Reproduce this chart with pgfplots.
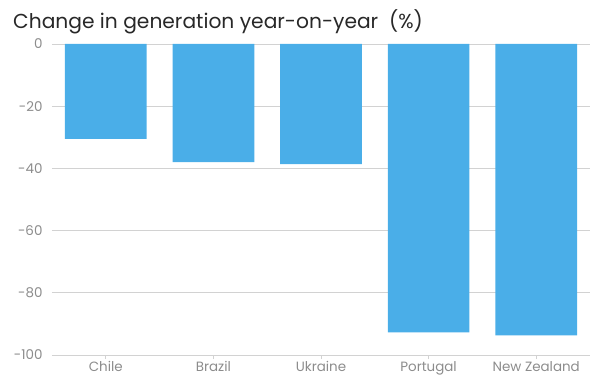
\documentclass[border=0pt]{standalone}
\usepackage{pgfplots}
\pgfplotsset{compat=1.18}
\usepackage{fontspec}
\setmainfont{Poppins}
\definecolor{barblue}{RGB}{74,174,232}
\definecolor{ticklab}{RGB}{140,140,140}
\definecolor{gridc}{RGB}{210,210,210}
\definecolor{titlec}{RGB}{40,40,40}
\begin{document}
\begin{tikzpicture}
\path[use as bounding box] (-52bp,-23bp) rectangle (538bp,355bp);
\begin{axis}[
  anchor=south west, at={(0,0)},
  scale only axis, width=538bp, height=311bp,
  xmin=-0.5, xmax=4.5, ymin=-100, ymax=0,
  axis line style={draw=none},
  ymajorgrids, grid style={gridc, line width=0.8pt},
  ytick={0,-20,-40,-60,-80,-100},
  xtick=data,
  xticklabels={Chile,Brazil,Ukraine,Portugal,New Zealand},
  tick align=outside, xtick pos=bottom, ytick pos=left,
  major tick length=4bp,
  xtick style={gridc, line width=0.8pt},
  ytick style={draw=none},
  /pgf/number format/assume math mode=true,
  yticklabel style={font=\fontsize{13.5}{15}\selectfont, text=ticklab, xshift=-2bp},
  xticklabel style={font=\fontsize{13.5}{15}\selectfont, text=ticklab, yshift=1bp},
  clip=false,
]
\addplot[ybar, bar width=81.7bp, fill=barblue, draw=none] coordinates {
  (0,-30.5) (1,-38.0) (2,-38.6) (3,-92.7) (4,-93.7)
};
\end{axis}
\node[anchor=base west, inner sep=0pt, text=titlec, font=\fontsize{20.3}{23}\selectfont] at (-39bp,326.7bp) {Change in generation year-on-year\ \ (\%)};
\end{tikzpicture}
\end{document}
